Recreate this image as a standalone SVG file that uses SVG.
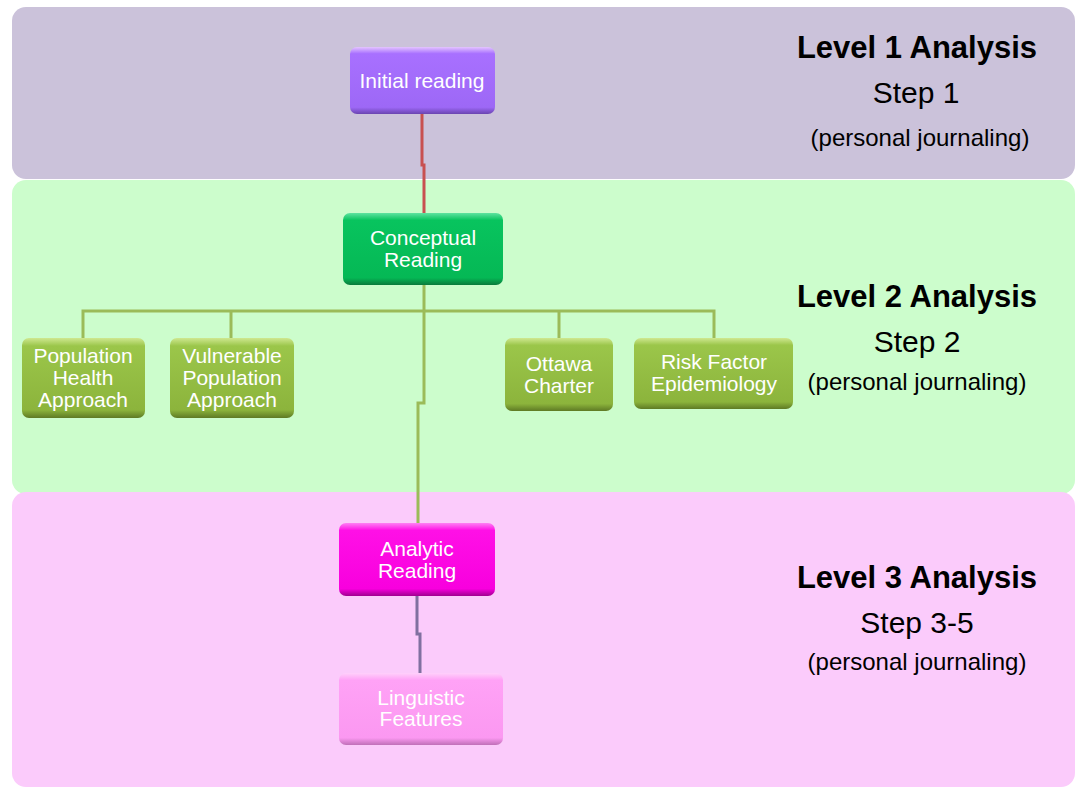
<svg xmlns="http://www.w3.org/2000/svg" width="1075" height="787" viewBox="0 0 1075 787">
<style>
.nt{font-family:"Liberation Sans",Arial,sans-serif;font-size:21px;fill:#ffffff;text-anchor:middle}
.h{font-family:"Liberation Sans",Arial,sans-serif;font-size:31px;font-weight:bold;fill:#000;text-anchor:middle}
.s{font-family:"Liberation Sans",Arial,sans-serif;font-size:30px;fill:#000;text-anchor:middle}
.p{font-family:"Liberation Sans",Arial,sans-serif;font-size:24px;fill:#000;text-anchor:middle}
.c{fill:none;stroke-width:3}
</style>
<defs>
<linearGradient id="gP" x1="0" y1="0" x2="0" y2="1"><stop offset="0" stop-color="#e4c4ff"/><stop offset="0.1" stop-color="#a870ff"/><stop offset="0.9" stop-color="#9d68f6"/><stop offset="1" stop-color="#6a44b0"/></linearGradient>
<linearGradient id="gG" x1="0" y1="0" x2="0" y2="1"><stop offset="0" stop-color="#5fe3a0"/><stop offset="0.1" stop-color="#08c45e"/><stop offset="0.9" stop-color="#05b855"/><stop offset="1" stop-color="#0a7a3c"/></linearGradient>
<linearGradient id="gO" x1="0" y1="0" x2="0" y2="1"><stop offset="0" stop-color="#cfe890"/><stop offset="0.1" stop-color="#9bc64a"/><stop offset="0.9" stop-color="#8cb43c"/><stop offset="1" stop-color="#5e7a24"/></linearGradient>
<linearGradient id="gM" x1="0" y1="0" x2="0" y2="1"><stop offset="0" stop-color="#ff80f4"/><stop offset="0.1" stop-color="#ff10e6"/><stop offset="0.9" stop-color="#f800de"/><stop offset="1" stop-color="#a0008f"/></linearGradient>
<linearGradient id="gL" x1="0" y1="0" x2="0" y2="1"><stop offset="0" stop-color="#ffd0fb"/><stop offset="0.1" stop-color="#ffa2f6"/><stop offset="0.9" stop-color="#fb98f1"/><stop offset="1" stop-color="#c070b8"/></linearGradient>
</defs>
<rect width="1075" height="787" fill="#ffffff"/>
<g id="bands">
<rect x="12" y="7" width="1063" height="172" rx="14" fill="#cbc2da"/>
<rect x="12" y="180" width="1063" height="314" rx="14" fill="#ccfdcc"/>
<rect x="12" y="492" width="1063" height="295" rx="14" fill="#fbcbfb"/>
</g>
<g id="connectors">
<path class="c" stroke="#c85050" d="M422 114 V165 H424 V213"/>
<path class="c" stroke="#9bbb59" d="M424 285 V403 H418 V523"/>
<path class="c" stroke="#9bbb59" d="M83 338 V311 H714 V338 M231 311 V338 M559 311 V338"/>
<path class="c" stroke="#8070a0" d="M417 596 V634 H420 V673"/>
</g>
<g id="n-initial">
<rect x="350" y="47" width="145" height="67" rx="7" fill="url(#gP)"/>
<text class="nt" x="422" y="88">Initial reading</text>
</g>
<g id="n-conceptual">
<rect x="343" y="213" width="160" height="72" rx="7" fill="url(#gG)"/>
<text class="nt" x="423" y="245">Conceptual</text>
<text class="nt" x="423" y="267">Reading</text>
</g>
<g id="n-pha">
<rect x="22" y="338" width="123" height="80" rx="7" fill="url(#gO)"/>
<text class="nt" x="83" y="363">Population</text>
<text class="nt" x="83" y="385">Health</text>
<text class="nt" x="83" y="407">Approach</text>
</g>
<g id="n-vpa">
<rect x="170" y="338" width="124" height="80" rx="7" fill="url(#gO)"/>
<text class="nt" x="232" y="363">Vulnerable</text>
<text class="nt" x="232" y="385">Population</text>
<text class="nt" x="232" y="407">Approach</text>
</g>
<g id="n-ottawa">
<rect x="505" y="338" width="108" height="73" rx="7" fill="url(#gO)"/>
<text class="nt" x="559" y="371">Ottawa</text>
<text class="nt" x="559" y="393">Charter</text>
</g>
<g id="n-risk">
<rect x="634" y="338" width="159" height="71" rx="7" fill="url(#gO)"/>
<text class="nt" x="714" y="369">Risk Factor</text>
<text class="nt" x="714" y="391">Epidemiology</text>
</g>
<g id="n-analytic">
<rect x="339" y="523" width="156" height="73" rx="7" fill="url(#gM)"/>
<text class="nt" x="417" y="556">Analytic</text>
<text class="nt" x="417" y="578">Reading</text>
</g>
<g id="n-linguistic">
<rect x="339" y="673" width="164" height="72" rx="7" fill="url(#gL)"/>
<text class="nt" x="421" y="705">Linguistic</text>
<text class="nt" x="421" y="726">Features</text>
</g>
<g id="labels">
<text class="h" x="917" y="58">Level 1 Analysis</text>
<text class="s" x="916" y="103">Step 1</text>
<text class="p" x="920" y="146">(personal journaling)</text>
<text class="h" x="917" y="307">Level 2 Analysis</text>
<text class="s" x="917" y="352">Step 2</text>
<text class="p" x="917" y="390">(personal journaling)</text>
<text class="h" x="917" y="588">Level 3 Analysis</text>
<text class="s" x="917" y="633">Step 3-5</text>
<text class="p" x="917" y="670">(personal journaling)</text>
</g>
</svg>
